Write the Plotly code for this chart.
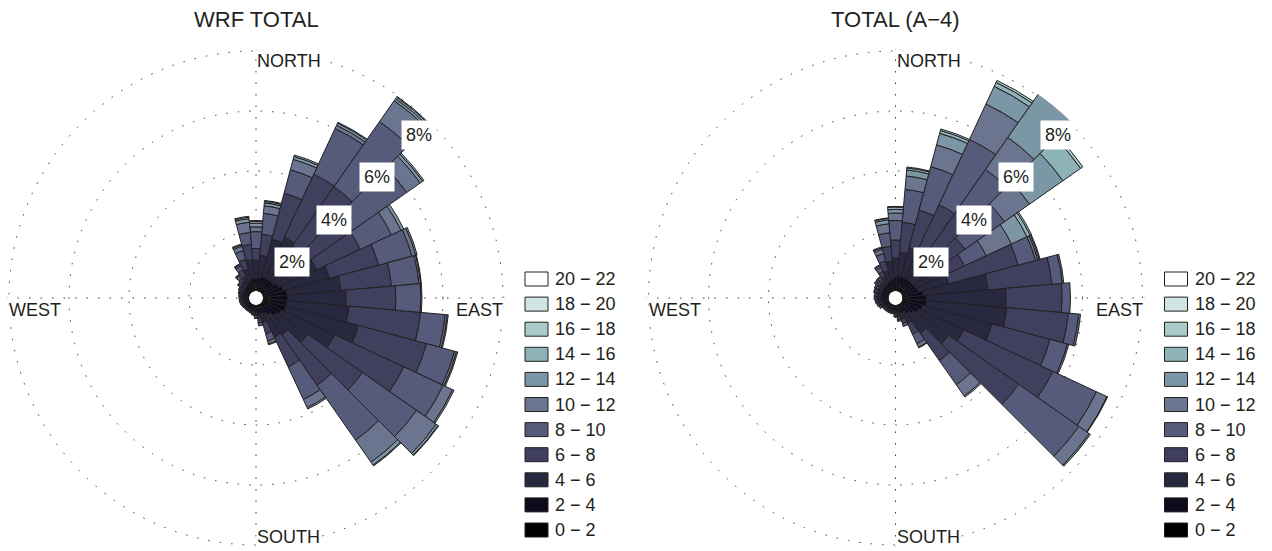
import numpy as np
import plotly.graph_objects as go

W, H = 1272, 551

# ---------------- data ----------------
directions = list(range(0, 360, 10))
speed_bins = ["0 − 2", "2 − 4", "4 − 6", "6 − 8", "8 − 10", "10 − 12",
              "12 − 14", "14 − 16", "16 − 18", "18 − 20", "20 − 22"]
bin_colors = ["#000000", "#0e0b1f", "#28283f", "#40405e", "#565b7b", "#6b7590",
              "#7b96a4", "#8db2b8", "#a9cbcc", "#d2e4e5", "#ffffff"]
percent_ticks = [2, 4, 6, 8]
compass = ["NORTH", "EAST", "SOUTH", "WEST"]
titles = ["WRF TOTAL", "TOTAL (A−4)"]

# WRF TOTAL: cumulative frequency (%) of winds below each speed, per direction
wrf_below2 = [0.15, 0.15, 0.15, 0.15, 0.15, 0.15, 0.15, 0.15, 0.15, 0.20, 0.20, 0.20,
              0.20, 0.15, 0.15, 0.12, 0.10, 0.10, 0.10, 0.08, 0.08, 0.08, 0.08, 0.08,
              0.08, 0.08, 0.08, 0.08, 0.08, 0.08, 0.10, 0.10, 0.10, 0.12, 0.12, 0.15]
wrf_below4 = [0.42, 0.45, 0.50, 0.50, 0.50, 0.50, 0.60, 0.70, 0.80, 0.82, 0.80, 0.80,
              0.70, 0.60, 0.45, 0.35, 0.30, 0.30, 0.25, 0.20, 0.18, 0.18, 0.18, 0.18,
              0.18, 0.18, 0.18, 0.18, 0.20, 0.20, 0.22, 0.25, 0.25, 0.30, 0.35, 0.43]
wrf_below6 = [1.03, 1.20, 1.80, 2.00, 1.90, 1.90, 2.00, 2.30, 2.60, 2.77, 2.88, 3.30,
              2.66, 1.87, 1.27, 1.20, 0.60, 0.45, 0.35, 0.30, 0.26, 0.25, 0.25, 0.25,
              0.25, 0.27, 0.27, 0.27, 0.28, 0.30, 0.32, 0.38, 0.45, 0.55, 0.75, 1.05]
wrf_below8 = [1.42, 1.90, 3.38, 4.32, 4.30, 3.70, 3.60, 4.00, 4.30, 4.43, 5.27, 5.65,
              5.20, 4.10, 3.32, 2.30, 1.00, 0.60, 0.45, 0.35, 0.30, 0.28, 0.28, 0.28,
              0.30, 0.32, 0.33, 0.33, 0.35, 0.36, 0.38, 0.45, 0.58, 0.80, 1.10, 1.56]
wrf_below10 = [1.98, 2.60, 4.19, 6.00, 6.95, 5.90, 4.75, 5.15, 5.22, 5.26, 6.10, 6.62,
               6.65, 6.30, 5.55, 3.50, 1.25, 0.70, 0.45, 0.35, 0.30, 0.28, 0.28, 0.28,
               0.30, 0.32, 0.33, 0.33, 0.35, 0.38, 0.42, 0.50, 0.68, 0.95, 1.40, 1.96]
wrf_below12 = [2.14, 2.85, 4.55, 6.12, 7.80, 6.45, 5.10, 5.28, 5.28, 5.30, 6.17, 6.69,
               7.00, 7.10, 6.45, 3.80, 1.35, 0.70, 0.45, 0.35, 0.30, 0.28, 0.28, 0.28,
               0.30, 0.32, 0.33, 0.33, 0.35, 0.38, 0.42, 0.52, 0.72, 1.00, 1.55, 2.30]
wrf_below14 = [2.26, 2.95, 4.65, 6.20, 7.88, 6.55, 5.20, 5.33, 5.30, 5.30, 6.20, 6.73,
               7.05, 7.18, 6.57, 3.85, 1.38, 0.70, 0.45, 0.35, 0.30, 0.28, 0.28, 0.28,
               0.30, 0.32, 0.33, 0.33, 0.35, 0.38, 0.42, 0.52, 0.74, 1.03, 1.60, 2.42]
wrf_below16 = [2.32, 3.00, 4.70, 6.23, 7.94, 6.60, 5.20, 5.33, 5.30, 5.30, 6.20, 6.73,
               7.05, 7.20, 6.60, 3.85, 1.38, 0.70, 0.45, 0.35, 0.30, 0.28, 0.28, 0.28,
               0.30, 0.32, 0.33, 0.33, 0.35, 0.38, 0.42, 0.52, 0.74, 1.03, 1.63, 2.47]
wrf_below18 = [2.35, 3.03, 4.70, 6.23, 7.97, 6.60, 5.20, 5.33, 5.30, 5.30, 6.20, 6.73,
               7.05, 7.20, 6.60, 3.85, 1.38, 0.70, 0.45, 0.35, 0.30, 0.28, 0.28, 0.28,
               0.30, 0.32, 0.33, 0.33, 0.35, 0.38, 0.42, 0.52, 0.74, 1.03, 1.63, 2.50]

# TOTAL (A-4): cumulative frequency (%) of winds below each speed, per direction
a4_below2 = [0.15, 0.15, 0.15, 0.15, 0.15, 0.15, 0.15, 0.15, 0.15, 0.20, 0.20, 0.20,
             0.15, 0.15, 0.15, 0.10, 0.10, 0.10, 0.08, 0.08, 0.08, 0.08, 0.08, 0.08,
             0.08, 0.10, 0.10, 0.10, 0.10, 0.10, 0.10, 0.10, 0.10, 0.12, 0.12, 0.15]
a4_below4 = [0.45, 0.50, 0.50, 0.50, 0.50, 0.50, 0.50, 0.55, 0.70, 0.80, 0.80, 0.70,
             0.60, 0.50, 0.40, 0.30, 0.30, 0.25, 0.20, 0.18, 0.18, 0.18, 0.18, 0.18,
             0.20, 0.22, 0.25, 0.25, 0.25, 0.25, 0.25, 0.28, 0.28, 0.30, 0.35, 0.40]
a4_below6 = [1.10, 1.30, 1.50, 1.60, 1.60, 1.50, 1.30, 1.60, 2.86, 3.45, 3.49, 3.10,
             2.27, 1.93, 1.20, 0.70, 0.50, 0.40, 0.30, 0.25, 0.25, 0.25, 0.25, 0.25,
             0.30, 0.33, 0.36, 0.38, 0.38, 0.40, 0.40, 0.45, 0.45, 0.55, 0.70, 1.00]
a4_below8 = [1.70, 2.30, 2.80, 3.20, 3.30, 2.60, 2.30, 4.00, 5.00, 5.32, 5.55, 5.10,
             5.55, 4.78, 2.32, 1.10, 0.65, 0.50, 0.38, 0.30, 0.30, 0.30, 0.30, 0.30,
             0.38, 0.42, 0.45, 0.48, 0.48, 0.50, 0.50, 0.55, 0.55, 0.75, 1.05, 1.50]
a4_below10 = [2.35, 3.40, 4.30, 5.60, 5.00, 4.20, 3.10, 4.60, 5.35, 5.60, 5.90, 5.70,
              7.16, 7.23, 3.30, 1.45, 0.75, 0.55, 0.40, 0.30, 0.30, 0.30, 0.30, 0.30,
              0.38, 0.42, 0.45, 0.48, 0.48, 0.52, 0.55, 0.60, 0.62, 0.90, 1.30, 1.95]
a4_below12 = [2.60, 3.85, 5.05, 6.90, 6.30, 5.22, 4.03, 4.68, 5.40, 5.60, 5.96, 5.75,
              7.55, 7.65, 3.75, 1.58, 0.75, 0.55, 0.40, 0.30, 0.30, 0.30, 0.30, 0.30,
              0.38, 0.42, 0.45, 0.48, 0.48, 0.52, 0.55, 0.63, 0.65, 0.96, 1.45, 2.25]
a4_below14 = [2.72, 4.05, 5.45, 7.55, 8.10, 6.58, 4.60, 4.73, 5.40, 5.60, 5.96, 5.75,
              7.57, 7.70, 3.80, 1.60, 0.75, 0.55, 0.40, 0.30, 0.30, 0.30, 0.30, 0.30,
              0.38, 0.42, 0.45, 0.48, 0.48, 0.52, 0.55, 0.63, 0.65, 0.99, 1.50, 2.38]
a4_below16 = [2.80, 4.12, 5.55, 7.70, 8.35, 7.30, 4.72, 4.76, 5.40, 5.60, 5.96, 5.75,
              7.57, 7.70, 3.80, 1.60, 0.75, 0.55, 0.40, 0.30, 0.30, 0.30, 0.30, 0.30,
              0.38, 0.42, 0.45, 0.48, 0.48, 0.52, 0.55, 0.63, 0.65, 0.99, 1.53, 2.43]
a4_below18 = [2.82, 4.15, 5.60, 7.77, 8.48, 7.39, 4.77, 4.76, 5.40, 5.60, 5.96, 5.75,
              7.57, 7.70, 3.80, 1.60, 0.75, 0.55, 0.40, 0.30, 0.30, 0.30, 0.30, 0.30,
              0.38, 0.42, 0.45, 0.48, 0.48, 0.52, 0.55, 0.63, 0.65, 0.99, 1.53, 2.45]

wrf_cum = [wrf_below2, wrf_below4, wrf_below6, wrf_below8, wrf_below10,
           wrf_below12, wrf_below14, wrf_below16, wrf_below18]
a4_cum = [a4_below2, a4_below4, a4_below6, a4_below8, a4_below10,
          a4_below12, a4_below14, a4_below16, a4_below18]

# ---------------- style / geometry ----------------
FONT = "Liberation Sans, Arial, Helvetica, sans-serif"
EDGE = "#231f20"
GRID = "#3a3a3a"
TXT = "#231f20"
CENTERS = [(256.0, 298.0), (895.5, 298.0)]
HOLE_PX = 7.0
PX_PER_PCT = 30.0
RMAX = 8.06
RDOM = HOLE_PX + PX_PER_PCT * RMAX
DOTS = "1.5px,10px"

fig = go.Figure()


def add_rose(subplot, cum_lists):
    prev = np.zeros(len(directions))
    for k, cum in enumerate(cum_lists):
        cum = np.asarray(cum, dtype=float)
        seg = cum - prev
        prev = cum
        fig.add_trace(go.Barpolar(
            r=seg, theta=directions, width=10, subplot=subplot,
            marker=dict(color=bin_colors[k], line=dict(color=EDGE, width=1)),
            name=speed_bins[k], showlegend=False, hoverinfo="skip"))
    # lets bars that reach past the 8 % ring be drawn in full
    fig.add_trace(go.Scatterpolar(
        r=[0], theta=[0], mode="markers", subplot=subplot, cliponaxis=False,
        marker=dict(size=1, opacity=0), showlegend=False, hoverinfo="skip"))


add_rose("polar", wrf_cum)
add_rose("polar2", a4_cum)


def polar_layout(cx, cy):
    return dict(
        domain=dict(x=[(cx - RDOM) / W, (cx + RDOM) / W],
                    y=[1 - (cy + RDOM) / H, 1 - (cy - RDOM) / H]),
        hole=HOLE_PX / RDOM,
        bgcolor="rgba(0,0,0,0)",
        barmode="stack",
        radialaxis=dict(range=[0, RMAX], tickvals=percent_ticks, showticklabels=False,
                        ticks="", showline=False, showgrid=True, gridcolor=GRID,
                        gridwidth=1.4, griddash=DOTS, layer="below traces"),
        angularaxis=dict(rotation=90, direction="clockwise", tickvals=[0, 90, 180, 270],
                         showticklabels=False, ticks="", showline=False, showgrid=True,
                         gridcolor=GRID, gridwidth=1.4, griddash=DOTS,
                         layer="below traces"),
    )


annotations = []
shapes = []


def px_ann(x, y, text, size=18, xanchor="center", yanchor="middle", bg=None, pad=1):
    d = dict(x=x / W, y=1 - y / H, xref="paper", yref="paper", text=text,
             showarrow=False, xanchor=xanchor, yanchor=yanchor,
             font=dict(family=FONT, size=size, color=TXT), borderpad=pad)
    if bg:
        d["bgcolor"] = bg
    annotations.append(d)


for (cx, cy), title in zip(CENTERS, titles):
    px_ann(cx, 20, title, size=22)
    # compass labels
    px_ann(cx, cy - 237, compass[0], xanchor="left", bg="white", pad=0)
    px_ann(cx + 248, cy + 12, compass[1], xanchor="right", bg="white", pad=0)
    px_ann(cx, cy + 239, compass[2], xanchor="left", bg="white", pad=0)
    px_ann(cx - 248, cy + 12, compass[3], xanchor="left", bg="white", pad=0)
    # percentage labels along the NE diagonal
    for p in percent_ticks:
        rr = PX_PER_PCT * p - 9.5
        px_ann(cx + rr / np.sqrt(2), cy - rr / np.sqrt(2), f"{p}%", bg="white", pad=4)
    # speed legend (top: 20-22, bottom: 0-2)
    lx = cx + 269
    for k in range(len(speed_bins)):
        yc = 279 + 25.1 * (len(speed_bins) - 1 - k)
        shapes.append(dict(type="rect", xref="paper", yref="paper",
                           x0=lx / W, x1=(lx + 23) / W,
                           y0=1 - (yc + 7) / H, y1=1 - (yc - 7) / H,
                           fillcolor=bin_colors[k], line=dict(color=EDGE, width=1)))
        px_ann(lx + 28, yc, speed_bins[k], xanchor="left")

fig.update_layout(
    width=W, height=H,
    margin=dict(l=0, r=0, t=0, b=0),
    paper_bgcolor="white",
    plot_bgcolor="white",
    polar=polar_layout(*CENTERS[0]),
    polar2=polar_layout(*CENTERS[1]),
    annotations=annotations,
    shapes=shapes,
    showlegend=False,
)

fig.write_html("out.html",
               config={"displayModeBar": False},
               post_script="document.body.style.margin='0px';"
                           "document.body.style.padding='0px';"
                           "document.body.style.overflow='hidden';")
